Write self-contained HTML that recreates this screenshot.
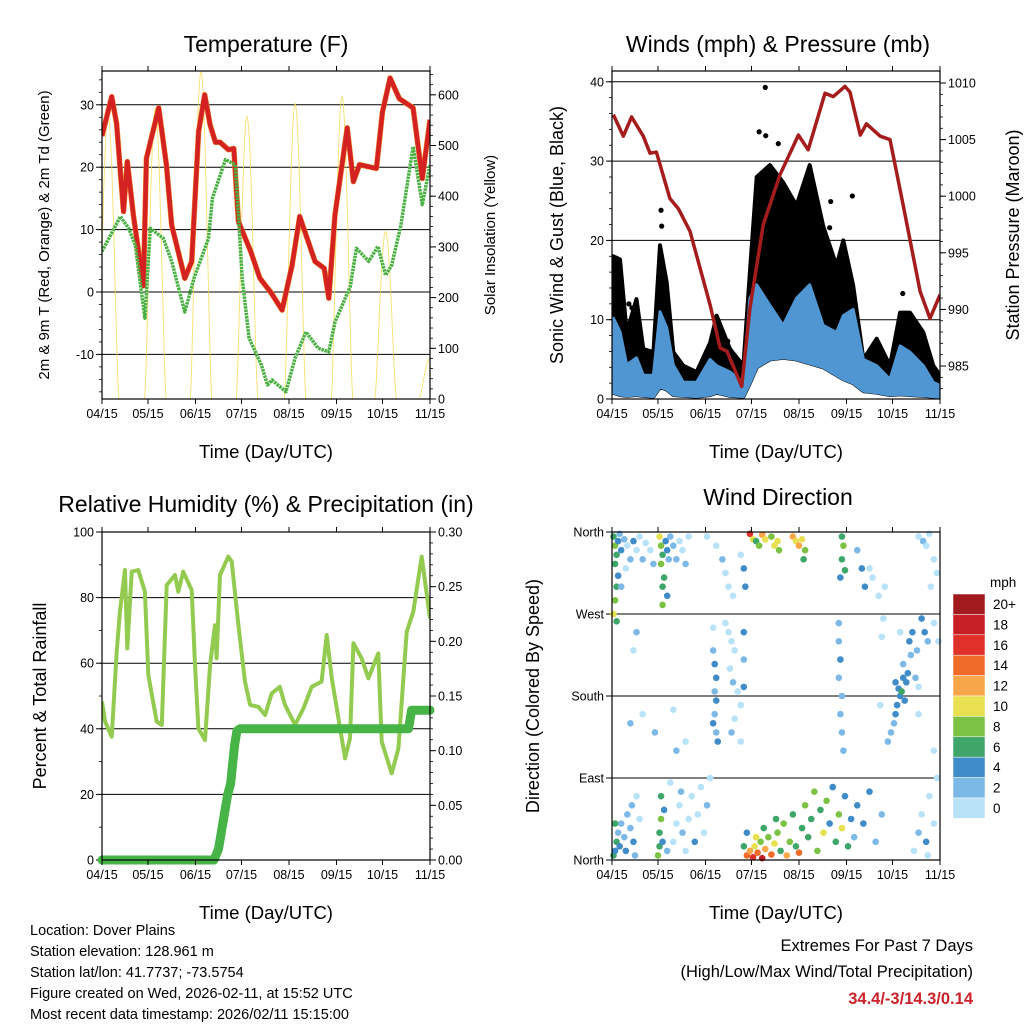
<!DOCTYPE html>
<html><head><meta charset="utf-8"><style>
html,body{margin:0;padding:0;background:#fff;}
svg{display:block;font-family:"Liberation Sans",Arial,sans-serif;}
</style></head><body>
<svg id="chart" width="1024" height="1024" viewBox="0 0 1024 1024" xmlns="http://www.w3.org/2000/svg"></svg>
<script>
// ---------- DATA ----------
const monthTicks = [0,30,61,91,122,153,183,214];
const monthLabels = ["04/15","05/15","06/15","07/15","08/15","09/15","10/15","11/15"];
const tempDays = [0,6.3,9.5,14,16.5,20.5,27,29,37,42,45.5,54,58.5,63,67,70.5,74,77,82.5,86,89,97,103,110,117.5,124,129,139,145,148,152,160,164,168,179,183,188,194,203,209,214];
const tempVals = [25,31.3,27,12.9,20.9,12.3,1,21.4,29.5,20.4,10.7,2.2,4.9,25.7,31.6,26.8,24,24,22.8,23,11.3,6.5,2.2,0,-2.9,4.3,12.1,4.9,3.8,-1,12.4,26.3,17.7,20.4,19.8,28.9,34.3,31,29.5,18.2,27.6];
const dewDays = [0,12,17.4,21.7,28,31.5,40,45.5,54,60,69.5,72,80.5,87,91.5,96,104,108,111,120,126,133,141,148,152,162,166,174,180,185,189,195,203,209,214];
const dewVals = [6.5,12.1,10.2,7.5,-4.2,10.2,8.6,4.9,-3.2,2.2,8.6,15,21.2,20.4,2.2,-7.4,-11.7,-14.9,-14.1,-16,-10.6,-6.4,-9,-9.6,-4.8,0.9,7,4.9,7.3,2.7,4.3,10.7,23.3,14,20.4];
const solarPeakDays = [4,34.8,64.6,94.6,126,156.6,185,214];
const solarPeakVals = [560,573,646,557,583,597,330,80];
const presDays = [0.9,7.4,12.8,20.4,24.8,29,37.8,43.3,50.9,64,70.5,75,84.6,90,98.7,109.6,121.6,128,139,144.4,152,155.3,162,166,175,181.4,190,201,207.5,214];
const presVals = [1007.2,1005.3,1007,1005.3,1003.8,1003.9,999.8,998.9,996.9,990.4,986.6,986.3,983.2,990.1,997.5,1001.9,1005.4,1004.1,1009.1,1008.8,1009.7,1009.2,1005.4,1006.4,1005.3,1005,999.2,991.6,989.2,991.3];
const windDays = [0.9,5.2,9.6,16,20.4,27,31.3,35.7,40,46.5,55.2,64,68.3,77,85.7,90,94.4,103,111.7,120.4,129,137.8,146.5,150.9,157.4,164,172.7,181.4,188,194.4,203.1,209.6,214];
const windHi = [10.2,8.5,4.3,5.2,3,3,11,9,4.3,2.1,2.1,5,4.2,3.4,2.1,12.7,14.4,11.8,9.3,12.7,14.4,9.3,8.4,10.5,11.3,5,4.2,2.5,6.7,5.9,4.2,2.1,1.7];
const windLo = [0.8,0.5,0.4,0.5,0.4,0.3,1.5,1.2,0.5,0.4,0.3,0.5,0.8,0.4,0.3,2,4,5,5.2,5,4.5,4,3,2.5,2,1,0.8,0.5,0.6,0.5,0.4,0.3,0.2];
const gustHi = [18,17.6,8.4,12.6,6.3,5.9,19.4,14.7,5.9,4.2,3.4,7.1,10.5,6.3,4.2,16,28,29.5,27.3,24.4,29.5,21.8,16.8,20,14.3,5,7.6,4.2,10.9,10.9,8.4,4.2,3];
const gustDotDays = [100,96,100.3,108.5,32,32.4,142.7,156.8,142,189.7,68,75.5,11,13,148];
const gustDotVals = [39.3,33.7,33.2,32.2,23.8,21.8,24.9,25.6,21.6,13.3,10.3,7.3,12,11.5,9.5];
const rhDays = [0,2,6.3,9.6,11.7,15,16.5,19.4,23.7,28,30.2,35.7,39,42.2,47.6,49.8,53,58.5,60.7,62.9,67.2,70.5,73.7,74.8,77,82.4,84.6,89,93.3,96.6,102,106.4,110.7,116,119.4,126,131.4,136.8,143.3,146.6,149.9,158.6,161.8,164,169.4,173.8,180.3,182.5,189,193.4,198.8,203.1,208.6,214];
const rhVals = [48.3,42.2,37.6,63.5,75.7,88.4,64.5,87.9,88.4,81.8,56.4,42.2,41.2,83.8,86.9,81.8,87.9,82.3,59.5,40.1,36.6,59.5,71.6,61.5,86.9,92.5,91,71.6,54.4,47.3,46.7,44.2,50.8,52.8,47.3,41.2,46.2,52.8,54.4,68.6,55.4,31,37.1,66.1,61.5,55.4,63,36.1,26.4,34,69.6,75.7,92.5,73.7];
const precipDays = [0,73,76,79,82,84,85,86.5,88,90,200,202,214];
const precipVals = [0,0,0.01,0.035,0.06,0.07,0.085,0.105,0.118,0.12,0.12,0.137,0.137];
const dirDays = [1,2,3,4,2,5,6,8,10,12,9,3,2,1,3,4,6,14,16,18,20,22,25,27,
31,32,33,32,34,33,35,36,37,38,40,42,44,46,48,50,36,33,
62,68,72,74,76,79,84,86,87,
90,92,94,96,98,100,104,106,108,109,118,120,122,124,126,125,
150,151,150,152,149,160,163,165,168,170,174,178,177,
200,203,205,207,210,212,208,202,204,206,210,213,
66,66,67,68,67,68,67,66,68,69,74,76,78,80,77,79,82,84,80,78,84,86,86,86,
148,148,149,148,150,149,150,151,
185,187,188,190,192,189,191,193,186,185,184,190,194,196,195,198,200,199,182,180,188,176,175,
14,16,20,12,28,40,48,42,200,210,
1,2,3,4,5,6,8,9,10,12,14,15,13,18,16,2,
30,31,31,32,32,33,34,36,
40,42,44,46,48,50,52,54,56,58,60,62,64,45,38,
88,90,92,93,95,97,98,100,102,104,106,108,110,112,114,116,118,120,122,124,126,128,130,132,134,136,138,140,142,144,146,148,150,152,154,156,158,160,164,168,172,176,88,86,94,99,107,
197,200,202,205,207,210,212,206];
const dirDegs = [355,345,335,350,325,358,340,352,345,330,320,300,285,270,262,312,300,350,340,355,330,348,340,325,
355,345,335,325,310,300,350,340,330,355,345,330,350,340,325,355,290,280,
355,345,330,315,300,290,335,320,300,
358,352,350,345,357,352,355,345,350,340,355,350,345,352,340,330,
355,345,330,318,310,340,320,300,320,310,290,300,265,
355,350,345,358,330,315,300,265,250,240,260,240,
255,230,215,200,185,175,160,150,140,130,260,250,240,230,210,195,185,170,155,140,130,250,220,190,
260,240,220,200,180,160,140,120,
195,188,180,200,195,185,175,205,170,160,150,215,240,250,225,200,190,230,140,130,250,245,170,
230,250,160,150,140,165,130,120,160,120,
5,10,20,30,15,40,25,10,50,35,20,5,60,45,70,40,
5,15,30,45,70,20,55,10,
20,40,60,30,10,45,70,20,50,80,30,60,90,75,85,
5,10,3,15,8,20,2,12,25,6,18,30,10,40,5,20,50,15,8,35,60,25,45,75,10,55,30,65,40,80,20,50,35,70,15,45,25,60,40,75,20,50,30,15,25,35,45,
10,30,50,20,70,40,90,5];
const dirSpeeds = [6,8,7,4,6,2,4,2,0,2,0,6,8,10,7,4,2,4,0,0,2,0,0,2,
10,8,6,8,6,6,4,4,2,2,2,2,0,0,2,0,4,8,
0,0,2,0,0,0,0,4,4,
16,10,6,8,12,10,8,10,10,8,12,10,12,10,8,6,
6,8,6,6,4,2,4,4,0,0,0,0,0,
0,2,0,0,0,0,0,4,4,2,0,0,
0,2,4,4,2,4,2,4,2,4,0,0,0,0,0,2,0,0,0,2,0,4,2,4,
2,2,4,2,2,2,2,2,
4,4,4,4,4,6,4,4,4,4,2,2,4,4,2,2,0,2,2,2,0,0,0,
0,2,0,2,2,0,0,2,0,0,
6,4,6,2,4,2,2,4,2,2,4,2,2,0,0,6,
8,6,6,8,6,4,4,2,
0,0,0,2,0,0,0,4,0,0,0,2,0,2,0,
14,12,16,10,14,8,18,12,8,14,10,8,6,8,12,8,6,6,14,6,8,6,6,8,8,6,10,8,4,4,6,8,10,4,6,4,2,4,4,4,2,2,4,6,10,6,6,
0,2,0,4,0,0,0,0];
const speedBins = ["0","2","4","6","8","10","12","14","16","18","20+"];
const speedColors = ["#b8e2f8","#7db9e6","#3f8cc8","#3fa66a","#7cc244","#e8e050","#f8a64a","#f06a2a","#e0302a","#c62026","#a01a1e"];

// ---------- HELPERS ----------
const NS = "http://www.w3.org/2000/svg";
const svg = document.getElementById("chart");
function mk(tag, attrs, parent){ const e=document.createElementNS(NS,tag); for(const k in attrs) e.setAttribute(k,attrs[k]); (parent||svg).appendChild(e); return e; }
function txt(s, x, y, size, anchor, parent, extra){ const t=mk("text",Object.assign({x:x,y:y,"font-size":size,"text-anchor":anchor||"middle",fill:"#000"},extra||{}),parent); t.textContent=s; return t; }
function path(pts){ return pts.map((p,i)=>(i?"L":"M")+p[0].toFixed(1)+","+p[1].toFixed(1)).join(""); }
const defs = mk("defs",{});
let clipN=0;
function panel(name, X0, X1, Y0, Y1){
  const g = mk("g",{});
  
  
  const id="clip"+(clipN++);
  const cp=mk("clipPath",{id:id},defs);
  mk("rect",{x:X0,y:Y0,width:X1-X0,height:Y1-Y0},cp);
  const xs = d => X0 + d/214*(X1-X0);
  const P = {g, xs, X0, X1, Y0, Y1};
  P.plot = mk("g",{"clip-path":`url(#${id})`},g);
  
  
  return P;
}
function frameAndX(P){
  const fr = mk("rect",{x:P.X0,y:P.Y0,width:P.X1-P.X0,height:P.Y1-P.Y0,fill:"none",stroke:"#000","stroke-width":1.2},P.g);
  
  
  const ax = mk("g",{},P.g);
  
  
  monthTicks.forEach((d,i)=>{
    const x=P.xs(d);
    mk("line",{x1:x,x2:x,y1:P.Y1,y2:P.Y1+5,stroke:"#000"},ax);
    mk("line",{x1:x,x2:x,y1:P.Y0,y2:P.Y0-5,stroke:"#000"},ax);
    const t=txt(monthLabels[i],x,P.Y1+19,12.5,"middle",ax);
    
    
  });
  const xt=txt("Time (Day/UTC)",(P.X0+P.X1)/2,P.Y1+59,18.5,"middle",P.g);
  
  
}
function yAxis(P, side, ticks, labels, yf, minorTicks, grid){
  const ax = mk("g",{},P.g);
  
  
  const xb = side==="left"?P.X0:P.X1, dir = side==="left"?-1:1;
  minorTicks.forEach(v=>{ const y=yf(v); if(y>=P.Y0-0.5&&y<=P.Y1+0.5) mk("line",{x1:xb,x2:xb+dir*3,y1:y,y2:y,stroke:"#000","stroke-width":0.8},ax); });
  ticks.forEach((v,i)=>{
    const y=yf(v);
    if(grid) mk("line",{x1:P.X0,x2:P.X1,y1:y,y2:y,stroke:"#000","stroke-width":1},P.plot);
    mk("line",{x1:xb,x2:xb+dir*6,y1:y,y2:y,stroke:"#000"},ax);
    const t=txt(labels[i], side==="left"?xb-8:xb+8, y+4.5, 12.5, side==="left"?"end":"start", ax);
    
    
  });
}
function yTitle(P,s,x,y,size,name){
  const t=txt(s,x,y,size,"middle",P.g,{transform:`rotate(-90 ${x} ${y})`});
  
  
}
function title(s,x,y,name){
  const t=txt(s,x,y,23,"middle");
  
  
}
function range(a,b,s){const r=[];for(let v=a;v<=b+1e-9;v+=s)r.push(+v.toFixed(4));return r;}

// ---------- PANEL 1: TEMPERATURE ----------
{
  const P = panel("temperature-panel",102,430,71,399);
  const yT = t => 292 - t*6.24;
  const yS = s => 399 - s*0.507;
  title("Temperature (F)",266,52,"temperature-title");
  yAxis(P,"left",[-10,0,10,20,30],["-10","0","10","20","30"],yT,range(-16,34,2),true);
  yAxis(P,"right",[0,100,200,300,400,500,600],["0","100","200","300","400","500","600"],yS,range(0,640,20),false);
  const sg = mk("g",{},P.plot);
  
  
  solarPeakDays.forEach((d,i)=>{
    const pts=[]; for(let k=-7;k<=7;k+=0.5){ const dd=d+k; if(dd<0||dd>214) continue; pts.push([P.xs(dd), yS(solarPeakVals[i]*Math.pow(Math.cos(k/7*Math.PI/2),1.4))]); }
    const p=mk("path",{d:path(pts),fill:"none",stroke:"#f5d94a","stroke-width":0.9,opacity:0.8},sg);
    
    
  });
  const tp = tempDays.map((d,i)=>[P.xs(d),yT(tempVals[i])]);
  const o=mk("path",{d:path(tp),fill:"none",stroke:"#f08a2a","stroke-width":5.5,"stroke-linejoin":"round"},P.plot);
  
  
  const r=mk("path",{d:path(tp),fill:"none",stroke:"#d42222","stroke-width":4.5,"stroke-linejoin":"round"},P.plot);
  
  
  const dp=mk("path",{d:path(dewDays.map((d,i)=>[P.xs(d),yT(dewVals[i])])),fill:"none",stroke:"#4bb043","stroke-width":3.5,"stroke-dasharray":"2.5 0.8","stroke-linejoin":"round"},P.plot);
  
  
  frameAndX(P);
  yTitle(P,"2m & 9m T (Red, Orange) & 2m Td (Green)",49,235,15,"y-axis-title-left");
  yTitle(P,"Solar Insolation (Yellow)",495,235,15,"y-axis-title-right");
}

// ---------- PANEL 2: WINDS ----------
{
  const P = panel("winds-panel",612,940,71,399);
  const yW = w => 399 - w*7.93;
  const yP = p => 83 + (1010-p)*11.32;
  title("Winds (mph) & Pressure (mb)",778,52,"winds-title");
  yAxis(P,"left",[0,10,20,30,40],["0","10","20","30","40"],yW,range(0,40,2),true);
  yAxis(P,"right",[985,990,995,1000,1005,1010],["985","990","995","1000","1005","1010"],yP,range(983,1010,1),false);
  const gpts = windDays.map((d,i)=>[P.xs(d),yW(gustHi[i])]).concat(windDays.map((d,i)=>[P.xs(d),yW(windLo[i])]).reverse());
  const gb=mk("path",{d:path(gpts)+"Z",fill:"#000",stroke:"#000","stroke-width":4,"stroke-linejoin":"round"},P.plot);
  
  
  gustDotDays.forEach((d,i)=>{
    const c=mk("circle",{cx:P.xs(d),cy:yW(gustDotVals[i]),r:2.6,fill:"#000"},P.plot);
    
    
  });
  const wpts = windDays.map((d,i)=>[P.xs(d),yW(windHi[i])]).concat(windDays.map((d,i)=>[P.xs(d),yW(windLo[i])]).reverse());
  const wb=mk("path",{d:path(wpts)+"Z",fill:"#4f96d2",stroke:"#4f96d2","stroke-width":3,"stroke-linejoin":"round"},P.plot);
  
  
  const pl=mk("path",{d:path(presDays.map((d,i)=>[P.xs(d),yP(presVals[i])])),fill:"none",stroke:"#a51c1c","stroke-width":3.5,"stroke-linejoin":"round"},P.plot);
  
  
  frameAndX(P);
  yTitle(P,"Sonic Wind & Gust (Blue, Black)",563,235,18,"y-axis-title-left");
  yTitle(P,"Station Pressure (Maroon)",1019,235,18,"y-axis-title-right");
}

// ---------- PANEL 3: RH ----------
{
  const P = panel("humidity-panel",102,430,532,860);
  const yR = r => 860 - r*3.28;
  const yPr = p => 860 - p/0.3*328;
  title("Relative Humidity (%) & Precipitation (in)",266,512,"humidity-title");
  yAxis(P,"left",[0,20,40,60,80,100],["0","20","40","60","80","100"],yR,range(0,100,10),true);
  yAxis(P,"right",[0,0.05,0.1,0.15,0.2,0.25,0.3],["0.00","0.05","0.10","0.15","0.20","0.25","0.30"],yPr,range(0,0.3,0.01),false);
  const rl=mk("path",{d:path(rhDays.map((d,i)=>[P.xs(d),yR(rhVals[i])])),fill:"none",stroke:"#92cb50","stroke-width":4,"stroke-linejoin":"round"},P.plot);
  
  
  const pr=mk("path",{d:path(precipDays.map((d,i)=>[P.xs(d),yPr(precipVals[i])])),fill:"none",stroke:"#46b446","stroke-width":9,"stroke-linejoin":"round","stroke-linecap":"round"},P.g);
  
  
  frameAndX(P);
  yTitle(P,"Percent & Total Rainfall",46,696,18,"y-axis-title-left");
}

// ---------- PANEL 4: WIND DIRECTION ----------
{
  const P = panel("wind-direction-panel",612,940,532,860);
  const yD = d => 860 - d/360*328;
  title("Wind Direction",778,505,"wind-direction-title");
  yAxis(P,"left",[0,90,180,270,360],["North","East","South","West","North"],yD,[],true);
  const sg=mk("g",{},P.g);
  
  
  dirDays.forEach((d,i)=>{
    const bin=Math.min(10,Math.floor(dirSpeeds[i]/2));
    const c=mk("circle",{cx:P.xs(d),cy:yD(dirDegs[i]),r:3.3,fill:speedColors[bin]},sg);
    
    
  });
  frameAndX(P);
  yTitle(P,"Direction (Colored By Speed)",539,696,18,"y-axis-title-left");
  const cb=mk("g",{});
  
  
  const u=txt("mph",990,587,13.5,"start",cb);
  
  
  for(let k=0;k<11;k++){
    const idx=10-k, y=594+k*20.4;
    const r=mk("rect",{x:953,y:y,width:32,height:20.4,fill:speedColors[idx],stroke:"#fff","stroke-width":0.5},cb);
    
    
    const t=txt(speedBins[idx],993,y+15,13.5,"start",cb);
    
    
  }
}

// ---------- FOOTER ----------
{
  const g=mk("g",{});
  
  
  ["Location: Dover Plains","Station elevation: 128.961 m","Station lat/lon: 41.7737; -73.5754","Figure created on Wed, 2026-02-11, at 15:52 UTC","Most recent data timestamp: 2026/02/11 15:15:00"].forEach((s,i)=>{
    const t=txt(s,30,935+i*21,14.5,"start",g);
    
    
  });
  const e=mk("g",{});
  
  
  const a=txt("Extremes For Past 7 Days",973,951,16.5,"end",e);
  
  
  const b=txt("(High/Low/Max Wind/Total Precipitation)",973,977,16.5,"end",e);
  
  
  const c=txt("34.4/-3/14.3/0.14",973,1004,16.5,"end",e,{fill:"#cc2229","font-weight":"bold"});
  
  
}
</script>
</body></html>
